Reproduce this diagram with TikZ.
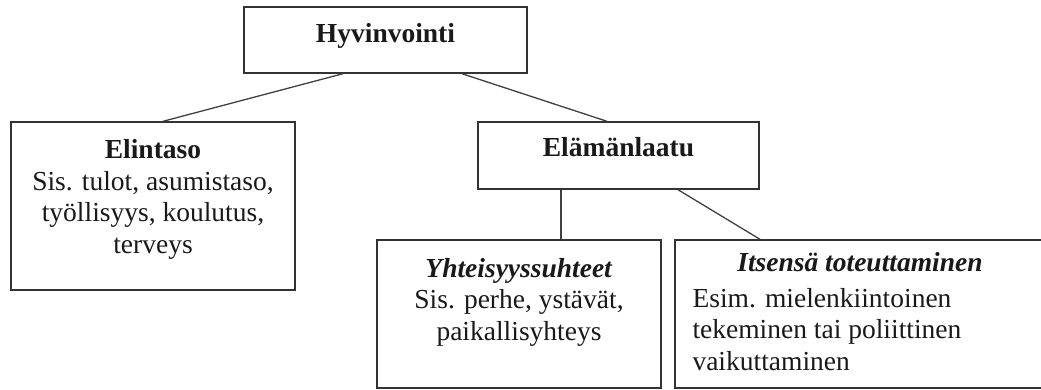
\documentclass[tikz,border=0pt]{standalone}
\usepackage{fontspec}
\setmainfont{Liberation Serif}
\usetikzlibrary{positioning,calc}

\tikzset{
    box/.style={draw=black!80, line width=1.4pt, inner sep=0pt},
    txt/.style={inner sep=0pt, align=center, text=black!90,
        font=\fontsize{27.5}{31.7}\selectfont},
    link/.style={draw=black!75, line width=1.3pt},
}

\begin{document}
\begin{tikzpicture}[x=1pt, y=-1pt]
\useasboundingbox (0,0) rectangle (1041,389);
\clip (0,0) rectangle (1041,389);

% boxes
\node[box, minimum width=283pt, minimum height=66pt] (hyv) at (385.5,40) {};
\node[box, minimum width=284pt, minimum height=168pt] (eli) at (153,206) {};
\node[box, minimum width=281pt, minimum height=67pt] (ela) at (618.5,155.5) {};
\node[box, minimum width=284pt, minimum height=148pt] (yht) at (519,314) {};
\node[box, minimum width=370pt, minimum height=148pt] (its) at (860,314) {};

% texts
\node[txt, anchor=base] (hyvt) at ($(hyv.center)+(0,2)$) {\bfseries Hyvinvointi};
\node[txt, anchor=base] (elat) at ($(ela.center)+(0,0.5)$) {\bfseries Elämänlaatu};
\node[txt, below=18pt of eli.north] (elit) {\textbf{Elintaso}\\
    Sis. tulot, asumistaso,\\ työllisyys, koulutus,\\ terveys};
\node[txt, below=18.5pt of yht.north] (yhtt) {\textbf{\textit{Yhteisyyssuhteet}}\\
    Sis. perhe, ystävät,\\ paikallisyhteys};
\node[txt, anchor=base] (itst) at ($(its.north)+(0,32)$) {\textbf{\textit{Itsensä toteuttaminen}}};
\node[txt, align=left, anchor=north west] (itsb) at ($(its.north west)+(18,48.5)$)
    {Esim. mielenkiintoinen\\ tekeminen tai poliittinen\\ vaikuttaminen};

% links
\draw[link] ($(hyv.south)+(-42.5,0)$) -- ($(eli.north)+(10,0)$);
\draw[link] ($(hyv.south)+(76.5,0)$) -- ($(ela.north)+(-11.5,0)$);
\draw[link] ($(ela.south)+(-57.5,0)$) -- ($(yht.north)+(42,0)$);
\draw[link] ($(ela.south)+(59.5,0)$) -- ($(its.north)+(-100,0)$);

\end{tikzpicture}
\end{document}
